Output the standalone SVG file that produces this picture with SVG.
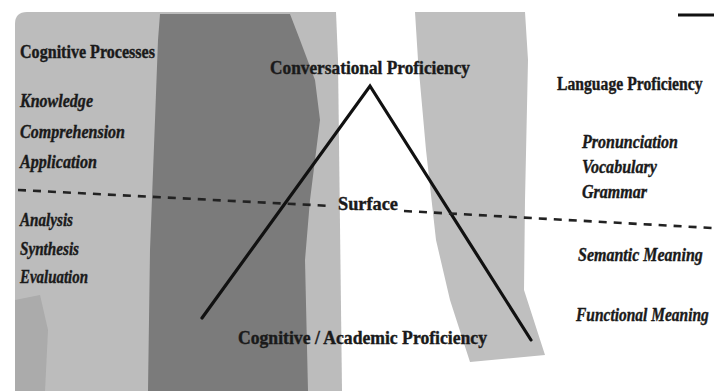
<svg xmlns="http://www.w3.org/2000/svg" width="719" height="391" viewBox="0 0 719 391">
  <style>
    .lbl { font-family: "Liberation Serif", "DejaVu Serif", serif; font-weight: bold; font-size: 19px; fill: #1a1a1a; stroke: #1a1a1a; stroke-width: 0.4; }
    .it { font-style: italic; }
    .line { stroke: #111; stroke-width: 3.2; fill: none; stroke-linecap: round; }
    .dash { stroke: #222; stroke-width: 2.6; stroke-dasharray: 8 7; fill: none; }
  </style>
  <rect x="0" y="0" width="719" height="391" fill="#ffffff"/>
  <g id="background">
    <path d="M15,24 Q15,12 27,12 L336,12 L338,60 L342,391 L15,391 Z" fill="#bcbcbc"/>
    <path d="M160,14 L290,14 L300,40 L315,80 L320,120 L310,200 L305,260 L308,391 L148,391 L150,250 L155,120 L158,40 Z" fill="#7b7b7b"/>
    <path d="M15,300 L40,295 L48,330 L45,391 L15,391 Z" fill="#9a9a9a" opacity="0.5"/>
    <path d="M415,12 L525,12 L528,60 L525,200 L524,290 L545,355 L470,362 L450,300 L436,240 L426,150 L418,60 Z" fill="#bfbfbf"/>
  </g>
  <g id="top-mark">
    <line x1="678" y1="15" x2="714" y2="15" stroke="#111" stroke-width="3"/>
  </g>
  <g id="connectors">
    <polyline class="line" points="202,318 370,86 531,340"/>
    <line class="dash" x1="18" y1="190" x2="332" y2="206"/>
    <line class="dash" x1="404" y1="211" x2="712" y2="228"/>
  </g>
  <g id="cognitive-processes">
    <text class="lbl" x="20" y="58" textLength="135" lengthAdjust="spacingAndGlyphs">Cognitive Processes</text>
    <text class="lbl it" x="20" y="107" textLength="73" lengthAdjust="spacingAndGlyphs">Knowledge</text>
    <text class="lbl it" x="20" y="138" textLength="105" lengthAdjust="spacingAndGlyphs">Comprehension</text>
    <text class="lbl it" x="20" y="168" textLength="77" lengthAdjust="spacingAndGlyphs">Application</text>
    <text class="lbl it" x="20" y="226" textLength="53" lengthAdjust="spacingAndGlyphs">Analysis</text>
    <text class="lbl it" x="20" y="255" textLength="59" lengthAdjust="spacingAndGlyphs">Synthesis</text>
    <text class="lbl it" x="20" y="283" textLength="68" lengthAdjust="spacingAndGlyphs">Evaluation</text>
  </g>
  <g id="conversational">
    <text class="lbl" x="270" y="74" textLength="200" lengthAdjust="spacingAndGlyphs">Conversational Proficiency</text>
  </g>
  <g id="surface">
    <text class="lbl" x="338" y="210" textLength="60" lengthAdjust="spacingAndGlyphs">Surface</text>
  </g>
  <g id="academic">
    <text class="lbl" x="238" y="344" textLength="249" lengthAdjust="spacingAndGlyphs">Cognitive / Academic Proficiency</text>
  </g>
  <g id="language-proficiency">
    <text class="lbl" transform="translate(557,90) scale(0.8,1)" x="0" y="0" textLength="182" lengthAdjust="spacingAndGlyphs">Language Proficiency</text>
    <text class="lbl it" x="582" y="148" textLength="96" lengthAdjust="spacingAndGlyphs">Pronunciation</text>
    <text class="lbl it" x="582" y="173" textLength="75" lengthAdjust="spacingAndGlyphs">Vocabulary</text>
    <text class="lbl it" x="582" y="198" textLength="65" lengthAdjust="spacingAndGlyphs">Grammar</text>
    <text class="lbl it" transform="translate(578,261) scale(0.8,1)" x="0" y="0" textLength="156" lengthAdjust="spacingAndGlyphs">Semantic Meaning</text>
    <text class="lbl it" transform="translate(576,321) scale(0.8,1)" x="0" y="0" textLength="166" lengthAdjust="spacingAndGlyphs">Functional Meaning</text>
  </g>
</svg>
